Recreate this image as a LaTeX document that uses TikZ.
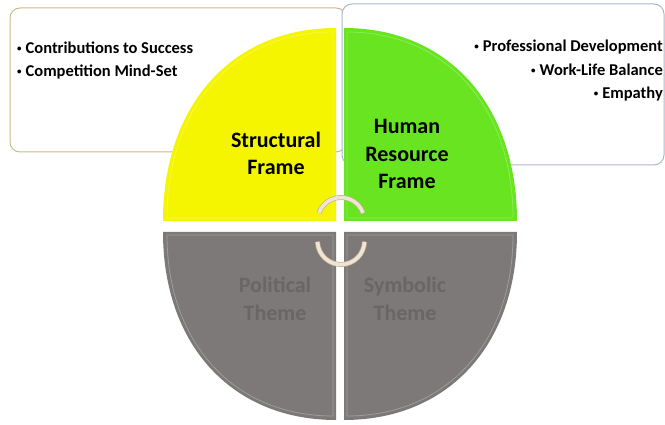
\documentclass[tikz,border=0pt]{standalone}
\usepackage{fontspec}
\setmainfont{Carlito}
\usetikzlibrary{positioning}

\definecolor{boxtan}{RGB}{201,188,134}
\definecolor{boxblue}{RGB}{169,185,204}
\definecolor{frameyellow}{RGB}{245,245,0}
\definecolor{framegreen}{RGB}{104,228,32}
\definecolor{themegray}{RGB}{125,121,121}
\definecolor{themetext}{RGB}{106,102,102}
\definecolor{arcfill}{RGB}{240,229,212}
\definecolor{arcedge}{RGB}{196,180,152}

% small list dot
\newcommand{\listdot}{\raisebox{2pt}{\fontsize{9}{9}\selectfont\textbullet}\hspace{4pt}}

\begin{document}
\begin{tikzpicture}[x=1pt,y=1pt,
	notebox/.style={rounded corners=10pt,fill=white,line width=1pt},
	bevel/.style={draw=white,draw opacity=0.25,line width=0.8pt},
	bullets/.style={font=\bfseries\fontsize{16.5}{23.5}\selectfont,inner sep=0pt},
	framelabel/.style={font=\bfseries\fontsize{22}{27.5}\selectfont,align=center,inner sep=0pt},
	cyclearc/.style={draw=arcedge,double=arcfill,double distance=3.5pt,line width=0.7pt}]
	
	\useasboundingbox (0,0) rectangle (665,425);
	
	% Draw note boxes
	\draw[notebox,draw=boxtan] (10,417) rectangle (346,273);
	\draw[notebox,draw=boxblue] (342,421) rectangle (664,260);
	
	% Draw quarters of the disc
	\fill[frameyellow] (336,204) -- (163,204) .. controls (163,320) and (232,397) .. (336,397) -- cycle;
	\fill[framegreen] (344,204) -- (517,204) .. controls (517,320) and (448,397) .. (344,397) -- cycle;
	\fill[themegray] (336,193) -- (163,193) .. controls (163,80) and (232,5) .. (336,5) -- cycle;
	\fill[themegray] (344,193) -- (517,193) .. controls (517,80) and (448,5) .. (344,5) -- cycle;
	
	% Bevel lines
	\draw[bevel] (333,207) -- (167,207) .. controls (167,318) and (234,393) .. (333,393) -- cycle;
	\draw[bevel] (347,207) -- (513,207) .. controls (513,318) and (446,393) .. (347,393) -- cycle;
	\draw[bevel] (333,190) -- (167,190) .. controls (167,82) and (234,9) .. (333,9) -- cycle;
	\draw[bevel] (347,190) -- (513,190) .. controls (513,82) and (446,9) .. (347,9) -- cycle;
	
	% Draw cycle arcs
	\draw[cyclearc] (341,204) ++(160:23.5) arc[start angle=160, end angle=20, radius=23.5];
	\draw[cyclearc] (341,184) ++(182:23.5) arc[start angle=182, end angle=358, radius=23.5];
	
	% Bullet lists
	\node[bullets,anchor=west,align=left] (left list) at (17,364.5)
		{\listdot Contributions to Success\\\listdot Competition Mind-Set};
	\node[bullets,anchor=east,align=right] (right list) at (663,354)
		{\listdot Professional Development\\\listdot Work-Life Balance\\\listdot Empathy};
	
	% Quarter labels
	\node[framelabel] (structural) at (276,271.5) {Structural\\Frame};
	\node[framelabel] (human) at (407,271) {Human\\Resource\\Frame};
	\node[framelabel,text=themetext] (political) at (275,126) {Political\\Theme};
	\node[framelabel,text=themetext] (symbolic) at (405,126) {Symbolic\\Theme};
	
\end{tikzpicture}
\end{document}
